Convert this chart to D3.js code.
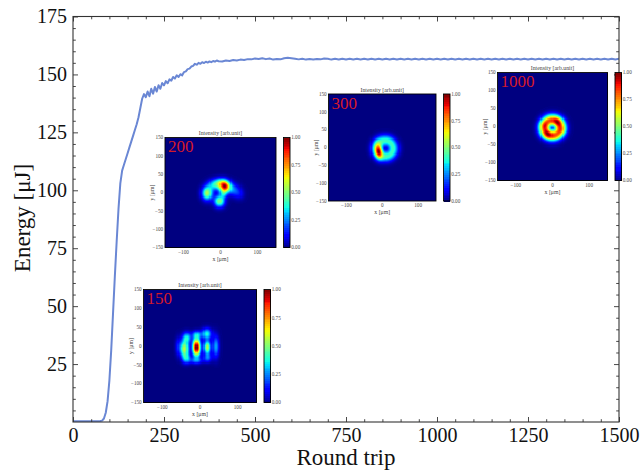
<!DOCTYPE html>
<html><head><meta charset="utf-8">
<script src="https://cdn.jsdelivr.net/npm/d3@7"></script>
<style>body{margin:0;background:#fff}svg{display:block}</style>
</head><body>
<svg id="chart" width="640" height="470"></svg>
<script>
// ---------------- DATA ----------------
const roundTrip = [
  0,5,10,15,20,25,30,35,40,45,50,55,60,65,70,75,80,85,90,95,
  100,105,110,115,120,125,130,135,140,145,150,155,160,165,170,175,180,185,190,195,
  200,205,210,215,220,225,230,235,240,245,250,255,260,265,270,275,280,285,290,295,
  300,305,310,315,320,325,330,335,340,345,350,355,360,365,370,375,380,385,390,395,400,
  410,420,430,440,450,460,470,480,490,500,510,520,530,540,550,560,570,580,590,600,
  610,620,630,640,650,660,670,680,690,700,
  710,720,730,740,750,760,770,780,790,800,810,820,830,840,850,860,870,880,890,900,
  910,920,930,940,950,960,970,980,990,1000,1010,1020,1030,1040,1050,1060,1070,1080,1090,1100,
  1110,1120,1130,1140,1150,1160,1170,1180,1190,1200,1210,1220,1230,1240,1250,1260,1270,1280,1290,1300,
  1310,1320,1330,1340,1350,1360,1370,1380,1390,1400,1410,1420,1430,1440,1450,1460,1470,1480,1490,1500
];
const energy = [
  0.3,0.3,0.3,0.3,0.3,0.3,0.3,0.3,0.3,0.3,0.3,0.3,0.3,0.3,0.3,0.4,0.6,1.5,4,9,
  18,31,47,63,78,92,103,108.5,111,113.5,116,118.5,121,123.5,126,128.5,131.5,135.5,139.5,141.5,
  140.2,142.6,140.6,143.8,141.7,144.6,142.6,145.3,143.8,146.3,145.3,147.1,146.2,147.9,147.3,148.9,148.2,149.6,148.9,150.1,
  149.6,151.0,151.3,152.3,152.5,153.4,153.7,154.6,154.2,155.0,154.6,155.3,154.9,155.5,155.1,155.6,155.3,155.8,155.5,156.0,155.7,
  155.6,156.0,155.8,156.2,156.0,156.4,156.2,156.6,156.5,156.9,156.7,157.0,156.6,156.9,156.4,156.7,156.5,157.0,157.2,157.0,
  156.8,156.5,156.8,156.4,156.7,156.4,156.7,156.5,156.9,156.8,
  156.4,156.75,156.4,156.75,156.4,156.75,156.4,156.75,156.4,156.75,156.4,156.75,156.4,156.75,156.4,156.75,156.4,156.75,156.4,156.75,
  156.4,156.75,156.4,156.75,156.4,156.75,156.4,156.75,156.4,156.75,156.4,156.75,156.4,156.75,156.4,156.75,156.4,156.75,156.4,156.75,
  156.4,156.75,156.4,156.75,156.4,156.75,156.4,156.75,156.4,156.75,156.4,156.75,156.4,156.75,156.4,156.75,156.4,156.75,156.4,156.75,
  156.4,156.75,156.4,156.75,156.4,156.75,156.4,156.75,156.4,156.75,156.4,156.75,156.4,156.75,156.4,156.75,156.4,156.75,156.4,156.75
];
const xTicks = [0,250,500,750,1000,1250,1500];
const yTicks = [25,50,75,100,125,150,175];
const xLabel = "Round trip";
const yLabel = "Energy [μJ]";

// Inset beam profiles: gaussian spots [x, y, sx, sy, amplitude] (µm)
const insetRounds = [150, 200, 300, 1000];
const spots150 = [
  [-9,-2,7,16,1.0], [-41,-6,8,15,0.55], [-35,24,8,10,0.32], [-36,-32,8,9,0.27],
  [19,-2,6.5,12,0.55], [18,34,9,10,0.37], [20,-30,8,8,0.22], [42,0,6.5,20,0.28],
  [-8,32,9,7,0.25], [-10,-37,12,6,0.2], [-57,0,6,17,0.12]
];
const spots200 = [
  [12,18,11,11,1.0], [-36,0,10,13,0.62], [-3,-22,10,11,0.55], [-18,23,11,10,0.35],
  [0,29,11,9,0.33], [37,8,11,12,0.22], [52,-3,9,11,0.1], [8,-2,7,8,0.25]
];
const spots300 = [[-8,-11,7.5,13,0.55], [-17,0,8,16,0.2]];
const spots1000 = [[13,14,9,9,0.18], [-13,-19,9,9,0.18], [-24,5,8,8,0.1], [28,-8,8,8,0.08]];
// rings [cx, cy, radius, width, amplitude]
const rings150 = [];
const rings200 = [];
const rings300 = [[8,-1,22,11,0.45]];
const rings1000 = [[-0.5,-2,21,11.5,0.85]];
const insetXTicks = [-100, 0, 100];
const insetYTicks = [150, 100, 50, 0, -50, -100, -150];
const colorbarTicks = [0, 0.25, 0.5, 0.75, 1];
const insetTitle = "Intensity [arb.unit]";

// ---------------- LAYOUT ----------------
const svg = d3.select("#chart");
const M = {left:73, right:619, top:16.5, bottom:422};
const x = d3.scaleLinear().domain([0,1500]).range([M.left, M.right]);
const y = d3.scaleLinear().domain([0,175]).range([M.bottom, M.top]);
const serif = "'Liberation Serif', 'Times New Roman', serif";
const axisColor = "#333";

svg.append("rect").attr("width",640).attr("height",470).attr("fill","#fff");

// line
svg.append("clipPath").attr("id","plotclip").append("rect")
  .attr("x",M.left).attr("y",M.top).attr("width",M.right-M.left).attr("height",M.bottom-M.top);
const pts = roundTrip.map((r,i)=>[r, energy[i]]);
svg.append("path").datum(pts)
  .attr("clip-path","url(#plotclip)")
  .attr("fill","none").attr("stroke","#6a87d4").attr("stroke-width",2)
  .attr("stroke-linejoin","round")
  .attr("d", d3.line().x(d=>x(d[0])).y(d=>y(d[1])));

// axes
function styleAxis(g){
  g.select(".domain").remove();
  g.selectAll(".tick line").attr("stroke",axisColor).attr("stroke-width",0.9);
  g.selectAll("text").attr("font-family",serif).attr("font-size",20).attr("fill","#111");
}
const xMinor = d3.range(0,1501,50).filter(v=>v%250!==0);
const yMinor = d3.range(0,176,5).filter(v=>v%25!==0);
svg.append("g").attr("transform",`translate(0,${M.bottom})`)
  .call(d3.axisBottom(x).tickValues(xTicks).tickSize(-5).tickPadding(6).tickFormat(d3.format("d"))).call(styleAxis);
svg.append("g").attr("transform",`translate(0,${M.bottom})`)
  .call(d3.axisBottom(x).tickValues(xMinor).tickSize(-2.8).tickFormat("")).call(styleAxis);
svg.append("g").attr("transform",`translate(0,${M.top})`)
  .call(d3.axisTop(x).tickValues(xTicks).tickSize(-5).tickFormat("")).call(styleAxis);
svg.append("g").attr("transform",`translate(0,${M.top})`)
  .call(d3.axisTop(x).tickValues(xMinor).tickSize(-2.8).tickFormat("")).call(styleAxis);
svg.append("g").attr("transform",`translate(${M.left},0)`)
  .call(d3.axisLeft(y).tickValues(yTicks).tickSize(-5).tickPadding(6).tickFormat(d3.format("d"))).call(styleAxis);
svg.append("g").attr("transform",`translate(${M.left},0)`)
  .call(d3.axisLeft(y).tickValues(yMinor).tickSize(-2.8).tickFormat("")).call(styleAxis);
svg.append("g").attr("transform",`translate(${M.right},0)`)
  .call(d3.axisRight(y).tickValues(yTicks).tickSize(-5).tickFormat("")).call(styleAxis);
svg.append("g").attr("transform",`translate(${M.right},0)`)
  .call(d3.axisRight(y).tickValues(yMinor).tickSize(-2.8).tickFormat("")).call(styleAxis);

svg.append("rect").attr("x",M.left).attr("y",M.top)
  .attr("width",M.right-M.left).attr("height",M.bottom-M.top)
  .attr("fill","none").attr("stroke",axisColor).attr("stroke-width",1.1);

svg.append("text").attr("x",(M.left+M.right)/2).attr("y",465)
  .attr("text-anchor","middle").attr("font-family",serif).attr("font-size",23).attr("fill","#111")
  .text(xLabel);
svg.append("text").attr("transform","translate(30,218) rotate(-90)")
  .attr("text-anchor","middle").attr("font-family",serif).attr("font-size",23).attr("fill","#111")
  .text(yLabel);

// ---------------- JET colormap ----------------
const jr = d3.scaleLinear().domain([0,0.35,0.66,0.89,1]).range([0,0,1,1,0.5]).clamp(true);
const jg = d3.scaleLinear().domain([0,0.125,0.375,0.64,0.91,1]).range([0,0,1,1,0,0]).clamp(true);
const jb = d3.scaleLinear().domain([0,0.11,0.34,0.65,1]).range([0.5,1,1,0,0]).clamp(true);
const jet = v => `rgb(${Math.round(jr(v)*255)},${Math.round(jg(v)*255)},${Math.round(jb(v)*255)})`;

// ---------------- INSETS ----------------
const insetLayout = {
  150: {left:143.5, top:289.5, w:113, h:113},
  200: {left:165, top:137.5, w:111, h:110},
  300: {left:328.5, top:94, w:107.5, h:107},
  1000:{left:497.5, top:72.5, w:110, h:108}
};
const insetSpots = {150:spots150, 200:spots200, 300:spots300, 1000:spots1000};
const insetRings = {150:rings150, 200:rings200, 300:rings300, 1000:rings1000};
const smallFont = 5.2, smallColor = "#444";

insetRounds.forEach(rt => {
  const L = insetLayout[rt];
  const g = svg.append("g");
  const xs = d3.scaleLinear().domain([-150,150]).range([L.left, L.left+L.w]);
  const ys = d3.scaleLinear().domain([-150,150]).range([L.top+L.h, L.top]);
  const N = 100, step = 300/N;
  const cells = [];
  for (let i=0;i<N;i++) for (let j=0;j<N;j++){
    const cx = -150+(i+0.5)*step, cy = -150+(j+0.5)*step;
    let v = 0;
    insetSpots[rt].forEach(([bx,by,sx,sy,a])=>{
      v += a*Math.exp(-((cx-bx)**2)/(2*sx*sx) - ((cy-by)**2)/(2*sy*sy));
    });
    insetRings[rt].forEach(([rx,ry,R,w,a])=>{
      const r = Math.hypot(cx-rx, cy-ry);
      v += a*Math.exp(-((r-R)**2)/(2*w*w));
    });
    cells.push({x0:-150+i*step, y0:-150+j*step, v});
  }
  const vmax = d3.max(cells, d=>d.v);
  const cw = xs(step)-xs(0), ch = ys(0)-ys(step);
  const cg = g.append("g").attr("shape-rendering","crispEdges");
  cg.append("rect").attr("x",L.left).attr("y",L.top).attr("width",L.w).attr("height",L.h).attr("fill",jet(0));
  cg.selectAll("rect.cell").data(cells.filter(d=>d.v/vmax>0.004)).join("rect").attr("class","cell")
    .attr("x",d=>xs(d.x0)).attr("y",d=>ys(d.y0+step))
    .attr("width",cw+0.6).attr("height",ch+0.6)
    .attr("fill",d=>jet(d.v/vmax));
  g.append("rect").attr("x",L.left).attr("y",L.top).attr("width",L.w).attr("height",L.h)
    .attr("fill","none").attr("stroke","#000").attr("stroke-width",0.9);

  // colorbar
  const cbx = L.left+L.w+7.5, cbw = 6.5;
  const cs = d3.scaleLinear().domain([0,1]).range([L.top+L.h, L.top]);
  const cbN = 60;
  g.append("g").attr("shape-rendering","crispEdges")
    .selectAll("rect.cb").data(d3.range(cbN)).join("rect").attr("class","cb")
    .attr("x",cbx).attr("width",cbw)
    .attr("y",k=>cs((k+1)/cbN)).attr("height",(L.h/cbN)+0.8)
    .attr("fill",k=>jet((k+0.5)/cbN));
  g.append("rect").attr("x",cbx).attr("y",L.top).attr("width",cbw).attr("height",L.h)
    .attr("fill","none").attr("stroke","#000").attr("stroke-width",0.9);
  g.selectAll("text.cbt").data(colorbarTicks).join("text").attr("class","cbt")
    .attr("x",cbx+cbw+1.2).attr("y",d=>cs(d)+1.8)
    .attr("font-family",serif).attr("font-size",smallFont).attr("fill",smallColor)
    .text(d=>d.toFixed(2));

  const fmt = v => v<0 ? "\u2212"+Math.abs(v) : String(v);
  g.selectAll("text.yt").data(insetYTicks).join("text").attr("class","yt")
    .attr("x",L.left-1.8).attr("y",d=>ys(d)+1.8).attr("text-anchor","end")
    .attr("font-family",serif).attr("font-size",smallFont).attr("fill",smallColor).text(fmt);
  g.selectAll("text.xt").data(insetXTicks).join("text").attr("class","xt")
    .attr("x",d=>xs(d)).attr("y",L.top+L.h+6).attr("text-anchor","middle")
    .attr("font-family",serif).attr("font-size",smallFont).attr("fill",smallColor).text(fmt);
  g.append("text").attr("x",L.left+L.w/2).attr("y",L.top+L.h+13)
    .attr("text-anchor","middle").attr("font-family",serif).attr("font-size",smallFont+0.6).attr("fill",smallColor)
    .text("x [μm]");
  g.append("text").attr("transform",`translate(${L.left-11},${L.top+L.h/2}) rotate(-90)`)
    .attr("text-anchor","middle").attr("font-family",serif).attr("font-size",smallFont+0.6).attr("fill",smallColor)
    .text("y [μm]");
  g.append("text").attr("x",L.left+L.w/2).attr("y",L.top-2.3)
    .attr("text-anchor","middle").attr("font-family",serif).attr("font-size",smallFont+0.6).attr("fill",smallColor)
    .text(insetTitle);
  g.append("text").attr("x",L.left+3).attr("y",L.top+14.5)
    .attr("font-family",serif).attr("font-size",17).attr("fill","#d41a2a")
    .text(String(rt));
});
</script>
</body></html>
